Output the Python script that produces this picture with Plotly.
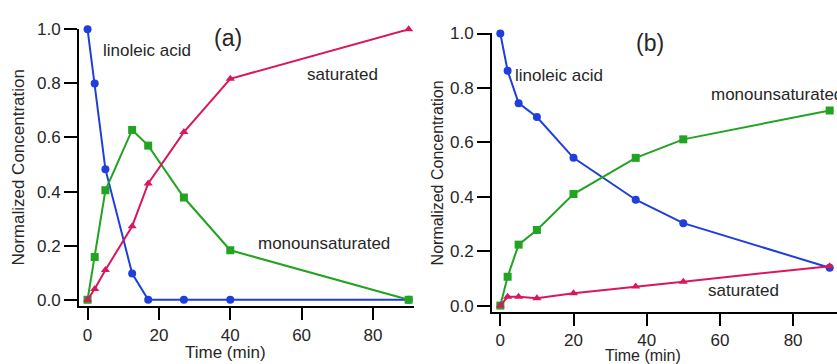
import plotly.graph_objects as go

# ---- data ----
time_a = [0, 2, 5, 12.5, 17, 27, 40, 90]
linoleic_a = [1.0, 0.80, 0.483, 0.097, 0.0, 0.0, 0.0, 0.0]
mono_a = [0.0, 0.158, 0.405, 0.628, 0.570, 0.378, 0.183, 0.0]
sat_a = [0.0, 0.040, 0.110, 0.272, 0.430, 0.620, 0.817, 1.0]

time_b = [0, 2, 5, 10, 20, 37, 50, 90]
linoleic_b = [1.0, 0.863, 0.744, 0.693, 0.543, 0.389, 0.303, 0.139]
mono_b = [0.0, 0.106, 0.224, 0.278, 0.410, 0.543, 0.611, 0.717]
sat_b = [0.0, 0.032, 0.032, 0.027, 0.045, 0.070, 0.088, 0.145]

y_ticks = [0, 0.2, 0.4, 0.6, 0.8, 1.0]
y_ticklabels = ["0.0", "0.2", "0.4", "0.6", "0.8", "1.0"]
x_ticks = [0, 20, 40, 60, 80]

BLUE = "#1f3fdc"
GREEN = "#22a322"
RED = "#d9165f"
W, H = 837, 364
FONT = "Liberation Sans, Arial, sans-serif"
TXT = "#262626"

fig = go.Figure()


def add_series(x, y, color, symbol, size, xa, ya):
    fig.add_trace(go.Scatter(
        x=x, y=y, mode="lines+markers", xaxis=xa, yaxis=ya,
        line=dict(color=color, width=2),
        marker=dict(color=color, symbol=symbol, size=size),
        cliponaxis=False, showlegend=False))


add_series(time_a, linoleic_a, BLUE, "circle", 8, "x", "y")
add_series(time_a, mono_a, GREEN, "square", 8, "x", "y")
add_series(time_a, sat_a, RED, "triangle-up", 8, "x", "y")
add_series(time_b, linoleic_b, BLUE, "circle", 8, "x2", "y2")
add_series(time_b, mono_b, GREEN, "square", 8, "x2", "y2")
add_series(time_b, sat_b, RED, "triangle-up", 8, "x2", "y2")


def px(x):
    return x / W


def py(y):
    return 1 - y / H


xcommon = dict(showline=True, linecolor="black", linewidth=2, ticks="outside",
               ticklen=12, tickwidth=2, tickcolor="black", tickvals=x_ticks,
               showgrid=False, zeroline=False, ticklabelstandoff=0,
               tickfont=dict(family=FONT, size=17, color=TXT))
ycommon = dict(showline=True, linecolor="black", linewidth=2, ticks="outside",
               ticklen=13, tickwidth=2, tickcolor="black", tickvals=y_ticks,
               ticktext=y_ticklabels, showgrid=False, zeroline=False,
               tickfont=dict(family=FONT, size=17, color=TXT))

fig.update_layout(
    width=W, height=H, margin=dict(l=0, r=0, t=0, b=0),
    paper_bgcolor="white", plot_bgcolor="white",
    xaxis=dict(domain=[px(79), px(414)], range=[-2.4, 91.5], anchor="y", **xcommon),
    yaxis=dict(domain=[py(307.5), py(21)], range=[-0.0244, 1.0], anchor="x", **ycommon),
    xaxis2=dict(domain=[px(492), 1.0], range=[-2.27, 92], anchor="y2", **xcommon),
    yaxis2=dict(domain=[py(313.3), py(24.5)], range=[-0.0235, 1.003], anchor="x2", **ycommon),
)

ann = [
    ("(a)", 228, 30, 23, "center", 0),
    ("linoleic acid", 147, 43, 17, "center", 0),
    ("saturated", 342, 68, 17, "center", 0),
    ("monounsaturated", 324, 243, 17, "center", 0),
    ("Time (min)", 225, 355, 17, "center", 0),
    ("Normalized Concentration", 19, 164, 17, "center", -90),
    ("(b)", 650, 35, 23, "center", 0),
    ("linoleic acid", 559, 69, 17, "center", 0),
    ("monounsaturated", 709, 88, 17, "left", 0),
    ("saturated", 743, 291, 17, "center", 0),
    ("Time (min)", 643, 358, 16, "center", 0),
    ("Normalized Concentration", 437, 170, 16, "center", -90),
]
for text, x, y, size, align, angle in ann:
    fig.add_annotation(text=text, x=px(x), y=py(y), xref="paper", yref="paper",
                       xanchor=align, yanchor="middle", showarrow=False,
                       textangle=angle,
                       font=dict(family=FONT, size=size, color=TXT))

fig.write_html("out.html")
